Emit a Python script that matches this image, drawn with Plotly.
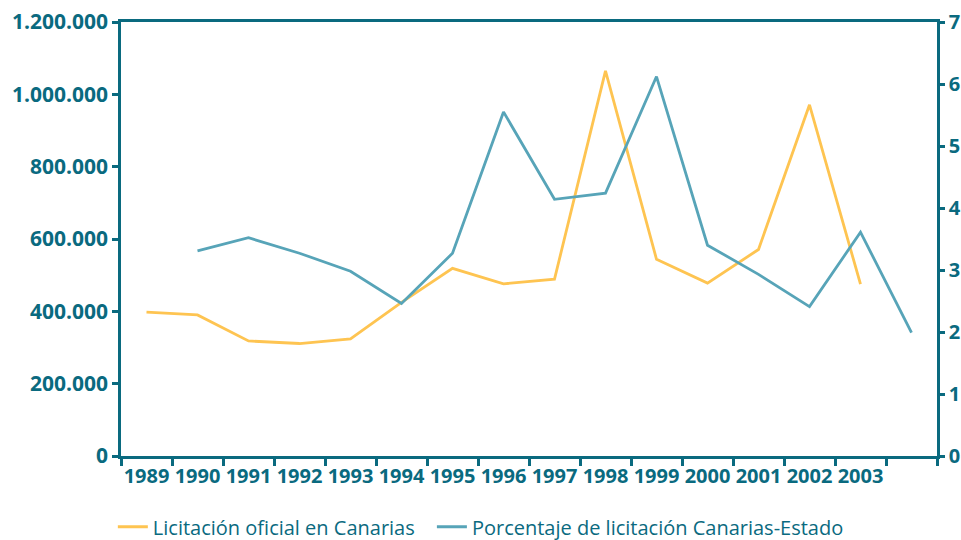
import plotly.graph_objects as go

years_licit = [1989, 1990, 1991, 1992, 1993, 1994, 1995, 1996, 1997, 1998, 1999, 2000, 2001, 2002, 2003]
licitacion = [398000, 390000, 318000, 311000, 324000, 425000, 519000, 476000, 489000, 1065000, 544000, 478000, 571000, 971000, 475000]

years_pct = [1990, 1991, 1992, 1993, 1994, 1995, 1996, 1997, 1998, 1999, 2000, 2001, 2002, 2003, 2004]
porcentaje = [3.31, 3.52, 3.27, 2.98, 2.46, 3.27, 5.55, 4.14, 4.24, 6.12, 3.40, 2.93, 2.41, 3.61, 1.99]

tick_years = [1989, 1990, 1991, 1992, 1993, 1994, 1995, 1996, 1997, 1998, 1999, 2000, 2001, 2002, 2003]
tick_labels = [str(y) for y in tick_years]

AX = "#0a6a7f"
ORANGE = "#fec451"
BLUE = "#57a4b8"
FONT = "Open Sans"

fig = go.Figure()
fig.add_trace(go.Scatter(x=years_licit, y=licitacion, mode="lines",
                         name="Licitación oficial en Canarias",
                         line=dict(color=ORANGE, width=2.8), legend="legend"))
fig.add_trace(go.Scatter(x=years_pct, y=porcentaje, mode="lines",
                         name="Porcentaje de licitación Canarias-Estado",
                         line=dict(color=BLUE, width=2.8), yaxis="y2", legend="legend2"))

boundaries = [1988.5 + i for i in range(17)]
legend_font = dict(family=FONT, size=20, color=AX)

fig.update_layout(
    width=961, height=540,
    margin=dict(l=121, r=24, t=22, b=84, autoexpand=False),
    paper_bgcolor="white", plot_bgcolor="white",
    separators=",.",
    showlegend=True,
    legend=dict(orientation="h", x=-0.01, xanchor="left", y=-0.163, yanchor="middle",
                font=legend_font, itemwidth=30, bgcolor="rgba(0,0,0,0)"),
    legend2=dict(orientation="h", x=0.381, xanchor="left", y=-0.163, yanchor="middle",
                 font=legend_font, itemwidth=30, bgcolor="rgba(0,0,0,0)"),
    xaxis=dict(range=[1988.5, 2004.5], tickmode="array", tickvals=tick_years, ticktext=tick_labels,
               ticks="", showgrid=False, zeroline=False, automargin=False,
               showline=True, linecolor=AX, linewidth=2.5, mirror=True,
               tickfont=dict(family=FONT, size=20, color=AX, weight="bold"),
               minor=dict(tickmode="array", tickvals=boundaries, ticks="outside",
                          ticklen=7, tickwidth=2.5, tickcolor=AX, showgrid=False)),
    yaxis=dict(range=[0, 1200000], tickmode="array",
               tickvals=[0, 200000, 400000, 600000, 800000, 1000000, 1200000],
               tickformat=",d", ticks="outside", ticklen=6, tickwidth=2.5, tickcolor=AX,
               showgrid=False, zeroline=False, showline=True, linecolor=AX, linewidth=2.5,
               automargin=False,
               tickfont=dict(family=FONT, size=21, color=AX, weight="bold")),
    yaxis2=dict(range=[0, 7], overlaying="y", side="right", tickmode="linear", dtick=1, tick0=0,
                ticks="outside", ticklen=5, tickwidth=2.5, tickcolor=AX, automargin=False,
                showgrid=False, zeroline=False, showline=True, linecolor=AX, linewidth=2.5,
                tickfont=dict(family=FONT, size=20, color=AX, weight="bold")),
)

fig.write_html("out.html", config={"displayModeBar": False},
               post_script="document.body.style.margin='0';document.body.style.padding='0';")
